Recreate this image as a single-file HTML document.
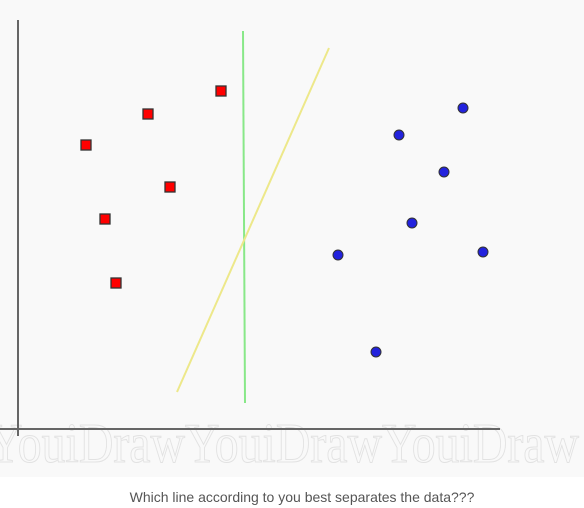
<!DOCTYPE html>
<html><head><meta charset="utf-8"><style>
body{margin:0;width:584px;height:508px;background:#fff;overflow:hidden;font-family:"Liberation Sans",sans-serif}
#bg{position:absolute;left:0;top:0;width:584px;height:477px;background:#f9f9f9}
#cap{position:absolute;left:0;top:489px;width:604px;text-align:center;font-size:14px;color:#555}
svg{position:absolute;left:0;top:0}
</style></head><body>
<div id="bg"></div>
<svg width="584" height="477">
<g font-family="Liberation Serif" font-size="56" fill="none" stroke="#e2e2e2" stroke-width="1">
<text x="-12" y="462" textLength="197" lengthAdjust="spacingAndGlyphs">YouiDraw</text><text x="185" y="462" textLength="197" lengthAdjust="spacingAndGlyphs">YouiDraw</text><text x="382" y="462" textLength="197" lengthAdjust="spacingAndGlyphs">YouiDraw</text>
</g>
<line x1="18" y1="20" x2="18" y2="436" stroke="#666" stroke-width="2"/>
<line x1="0" y1="429" x2="500" y2="429" stroke="#666" stroke-width="2"/>
<g id="marks"></g>
</svg>
<div id="cap">Which line according to you best separates the data???</div>
<script>
const redX=[68,130,203,152,87,98];
const redY=[284,315,338,242,210,146];
const blueX=[445,381,426,394,465,320,358];
const blueY=[321,294,257,206,177,174,77];
const greenLine=[[225,398],[227,26]];
const yellowLine=[[311,381],[159,37]];
const X=v=>18+v, Y=v=>429-v;
const g=document.getElementById('marks'),NS='http://www.w3.org/2000/svg';
function mk(t,a){const e=document.createElementNS(NS,t);for(const k in a)e.setAttribute(k,a[k]);g.appendChild(e);return e;}
let l=mk('line',{x1:X(greenLine[0][0]),y1:Y(greenLine[0][1]),x2:X(greenLine[1][0]),y2:Y(greenLine[1][1]),stroke:'#88e888','stroke-width':2});


l=mk('line',{x1:X(yellowLine[0][0]),y1:Y(yellowLine[0][1]),x2:X(yellowLine[1][0]),y2:Y(yellowLine[1][1]),stroke:'#ede88a','stroke-width':2});


redX.forEach((v,i)=>{const r=mk('rect',{x:X(v)-5,y:Y(redY[i])-5,width:10,height:10,fill:'#f00',stroke:'#333','stroke-width':1.3});

});
blueX.forEach((v,i)=>{const c=mk('circle',{cx:X(v),cy:Y(blueY[i]),r:5,fill:'#2222dd',stroke:'#333','stroke-width':1});

});
</script>
</body></html>
